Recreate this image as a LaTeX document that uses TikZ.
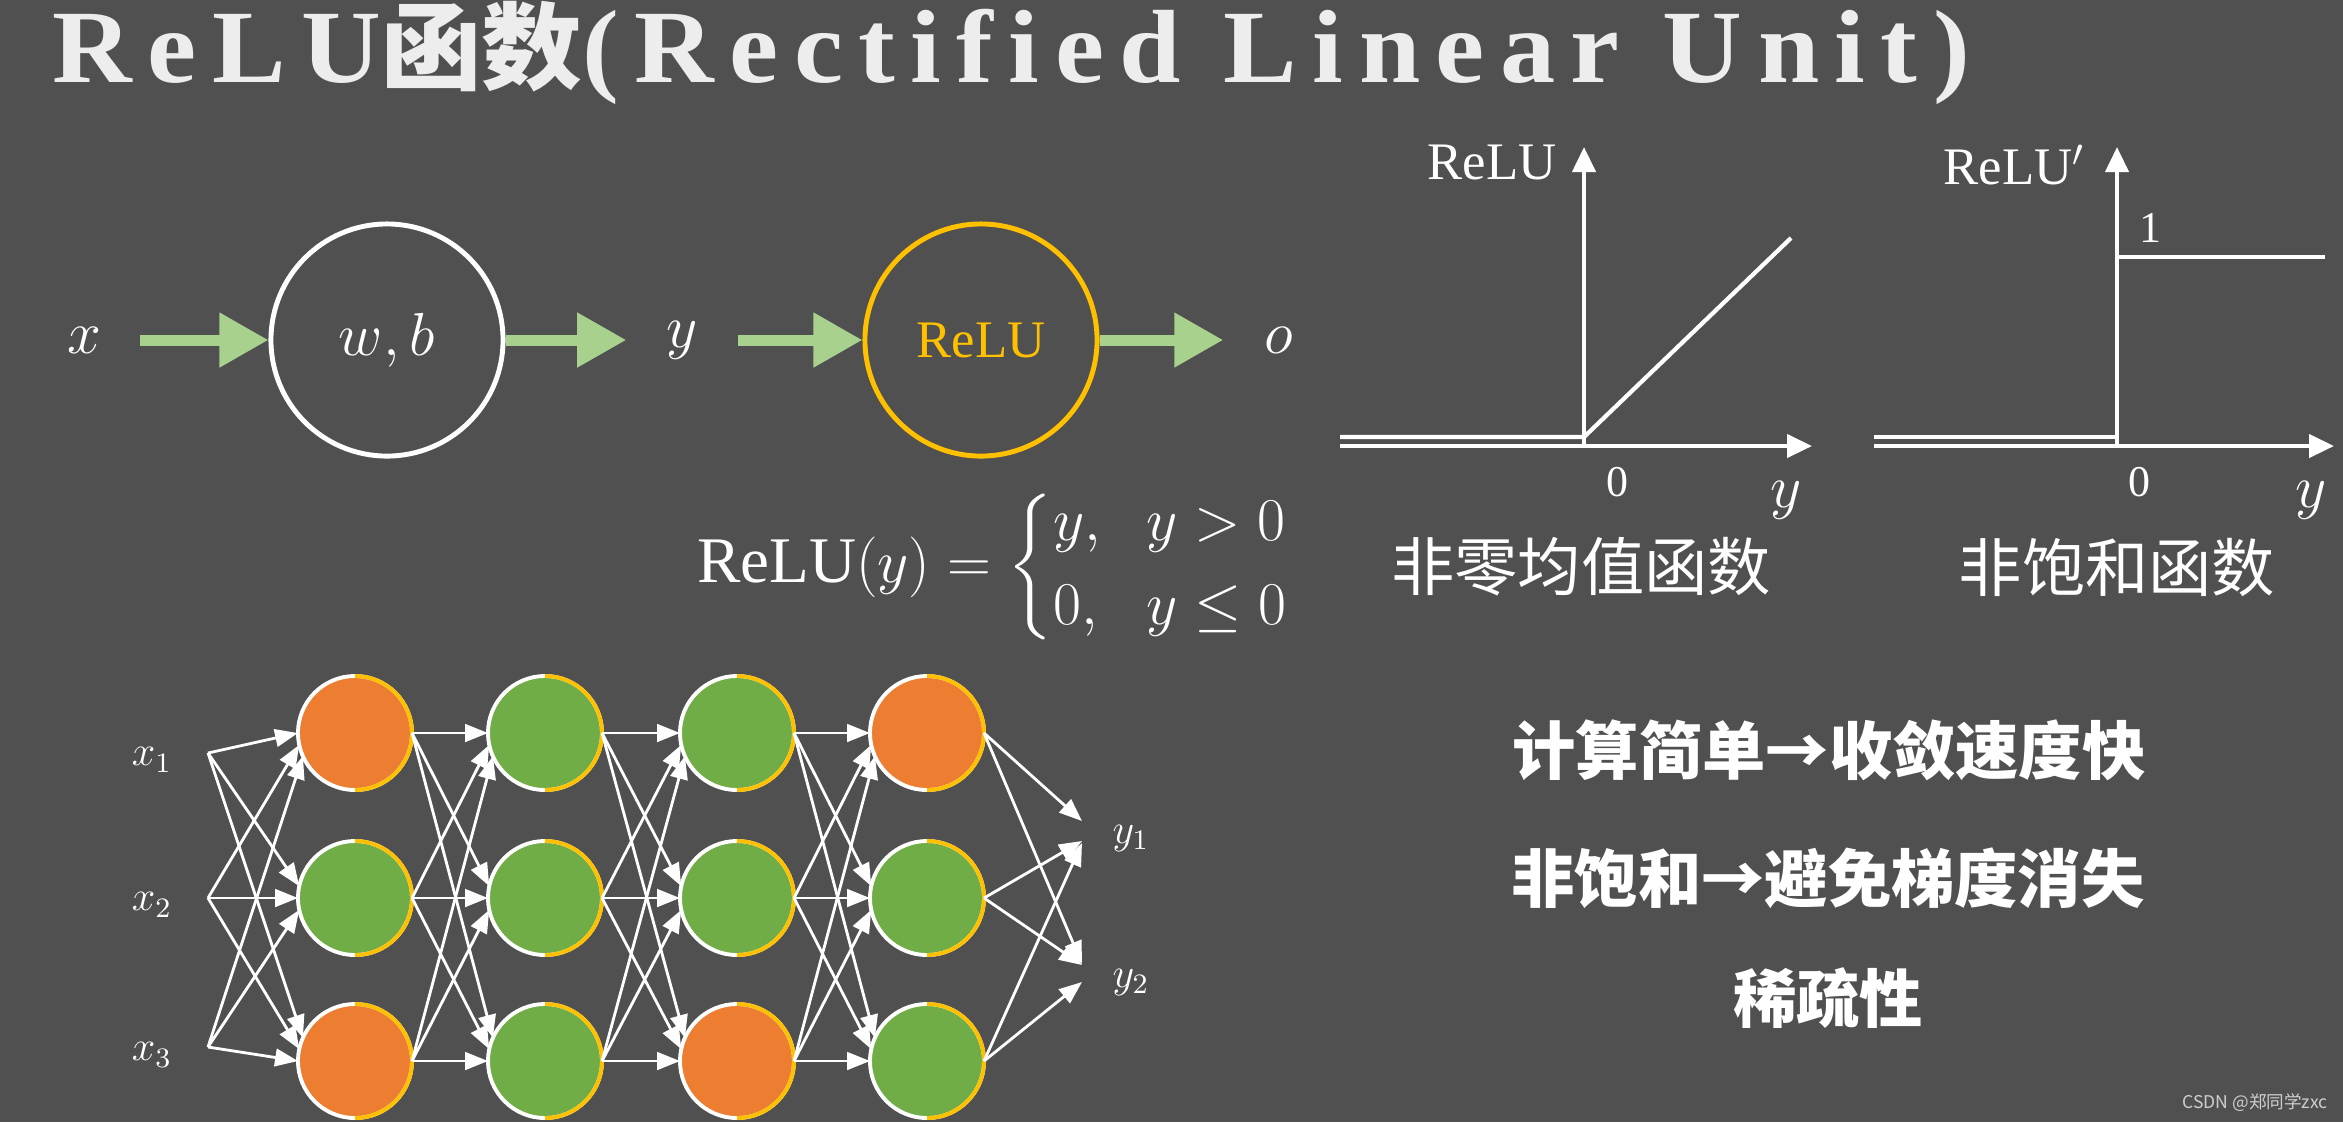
\documentclass[tikz,border=0pt]{standalone}
\usepackage{fontspec}
\usepackage{amsmath}
\setmainfont{Liberation Serif}
\newfontfamily\cjk{Noto Sans CJK SC}
\newfontfamily\titlefont{Liberation Serif}[LetterSpace=14]
\usetikzlibrary{arrows.meta}

\definecolor{slide}{HTML}{505050}
\definecolor{flowgreen}{HTML}{A9D18E}
\definecolor{reluyellow}{HTML}{FFC000}
\definecolor{unitorange}{HTML}{ED7D31}
\definecolor{unitgreen}{HTML}{70AD47}
\definecolor{titlewhite}{HTML}{EDEDED}

\begin{document}
\begin{tikzpicture}[x=0.01cm, y=-0.01cm,
        var/.style={inner sep=0, minimum width=1.1cm, text=white, font=\fontsize{17}{20}\selectfont},
        unit/.style={draw=white, circle, line width=1.4pt, minimum size=2.32cm, inner sep=0, text=white, font=\fontsize{16}{19}\selectfont},
        flow/.style={draw=flowgreen, line width=0.11cm, -{Triangle[length=0.49cm, width=0.52cm]}},
        axis/.style={white, line width=1.2pt, -{Triangle[length=0.25cm, width=0.23cm]}},
        curve/.style={white, line width=1.2pt},
        plotlabel/.style={text=white, font=\fontsize{15}{18}\selectfont},
        tick/.style={text=white, font=\fontsize{12.5}{15}\selectfont},
        caption/.style={text=white, font=\cjk\fontsize{18}{21}\selectfont},
        neuron/.style={circle, draw=white, line width=1.1pt, minimum size=1.14cm, inner sep=0, outer sep=0},
        rim/.style={draw=reluyellow, line width=1.1pt},
        link/.style={white, line width=0.8pt, -{Triangle[length=6.5pt, width=5pt]}},
        netvar/.style={text=white, font=\fontsize{12}{14}\selectfont},
        merit/.style={text=white, font=\cjk\bfseries\fontsize{18}{21}\selectfont}]

    % slide background
    \fill[slide] (0,0) rectangle (2343,1122);

    % Title
    \node[anchor=base west, inner sep=0, xscale=1.06, text=titlewhite,
          font=\titlefont\bfseries\fontsize{29.6}{32}\selectfont] (title) at (52,82)
          {ReLU{\cjk\bfseries\fontsize{27}{30}\selectfont 函数}(Rectified Linear Unit)};

    %%% single neuron: x -> (w,b) -> y -> ReLU -> o
    \node[var] (xin) at (84,340) {$x$};
    \node[unit] (wb) at (387,340) {$w,b$};
    \node[var] (yin) at (682,340) {$y$};
    \node[unit, draw=reluyellow, text=reluyellow, font=\fontsize{15}{18}\selectfont] (act) at (981,340) {ReLU};
    \node[var] (oout) at (1279,340) {$o$};

    \draw[flow] (xin) -- (wb);
    \draw[flow] (wb) -- (yin);
    \draw[flow] (yin) -- (act);
    \draw[flow] (act) -- (oout);

    % the definition
    \node[text=white, font=\fontsize{18.5}{22}\selectfont] (rule) at (994,567)
          {$\text{ReLU}(y)=\left\{\begin{array}{@{}l@{\hspace{0.7em}}l@{}}y, & y>0\\[2pt] 0, & y\le 0\end{array}\right.$};

    %%% plot of ReLU
    \coordinate (o1) at (1584,446);
    \draw[axis] (1340,446) -- (1812,446);
    \draw[axis] (o1) -- (1584,147);
    \draw[curve] (1340,437) -- (1584,437) -- (1791,238);
    \node[plotlabel] (f1) at (1492,162) {ReLU};
    \node[tick] (z1) at (1617,482) {0};
    \node[var, minimum width=0] (ya) at (1786,500) {$y$};
    \node[caption] (c1) at (1581,567) {非零均值函数};

    %%% plot of the derivative
    \coordinate (o2) at (2117,446);
    \draw[axis] (1874,446) -- (2334,446);
    \draw[axis] (o2) -- (2117,147);
    \draw[curve] (1874,437) -- (2117,437);
    \draw[curve] (2117,257) -- (2325,257);
    \node[plotlabel] (f2) at (2014,165) {ReLU$'$};
    \node[tick] (one) at (2150,228) {1};
    \node[tick] (z2) at (2139,482) {0};
    \node[var, minimum width=0] (yb) at (2311,500) {$y$};
    \node[caption] (c2) at (2117,567) {非饱和函数};

    %%% small network
    % hidden units, h<column><row>
    \node[neuron, fill=unitorange] (h11) at (355,733) {};
    \node[neuron, fill=unitgreen]  (h12) at (355,898) {};
    \node[neuron, fill=unitorange] (h13) at (355,1061) {};
    \node[neuron, fill=unitgreen]  (h21) at (545,733) {};
    \node[neuron, fill=unitgreen]  (h22) at (545,898) {};
    \node[neuron, fill=unitgreen]  (h23) at (545,1061) {};
    \node[neuron, fill=unitgreen]  (h31) at (737,733) {};
    \node[neuron, fill=unitgreen]  (h32) at (737,898) {};
    \node[neuron, fill=unitorange] (h33) at (737,1061) {};
    \node[neuron, fill=unitorange] (h41) at (927,733) {};
    \node[neuron, fill=unitgreen]  (h42) at (927,898) {};
    \node[neuron, fill=unitgreen]  (h43) at (927,1061) {};
    % yellow right half of each rim
    \foreach \c in {1,...,4}
      \foreach \r in {1,2,3}
        \draw[rim] (h\c\r.north) arc[start angle=90, end angle=-90, radius=0.57cm];

    % inputs and outputs
    \coordinate (in1) at (208,753);
    \coordinate (in2) at (208,898);
    \coordinate (in3) at (208,1047);
    \node[netvar] (x1) at (152,760) {$x_1$};
    \node[netvar] (x2) at (152,905) {$x_2$};
    \node[netvar] (x3) at (152,1055) {$x_3$};
    \coordinate (out1) at (1082,831);
    \coordinate (out2) at (1082,973);
    \node[netvar] (y1) at (1131,838) {$y_1$};
    \node[netvar] (y2) at (1131,982) {$y_2$};

    \foreach \i in {1,2,3}
      \foreach \j in {1,2,3} {
        \pgfmathtruncatemacro\ang{180-12*(\j-\i)}
        \draw[link] (in\i) -- (h1\j.\ang);
      }
    \foreach \c/\n in {1/2,2/3,3/4}
      \foreach \i in {1,2,3}
        \foreach \j in {1,2,3} {
          \pgfmathtruncatemacro\ang{180-12*(\j-\i)}
          \draw[link] (h\c\i.east) -- (h\n\j.\ang);
        }
    \foreach \i/\k/\s in {1/1/0.1, 2/1/-0.1, 3/1/-0.12, 1/2/0.09, 2/2/0.08, 3/2/-0.09}
      \draw[link] (h4\i.east) -- ([yshift=\s cm]out\k);

    %%% why ReLU
    \node[merit] (m1) at (1829,750) {计算简单→收敛速度快};
    \node[merit] (m2) at (1828,878) {非饱和→避免梯度消失};
    \node[merit] (m3) at (1828,998) {稀疏性};

    \node[text=white!72!slide, font=\cjk\fontsize{5}{6}\selectfont] (mark) at (2255,1103) {CSDN @郑同学zxc};
\end{tikzpicture}
\end{document}
